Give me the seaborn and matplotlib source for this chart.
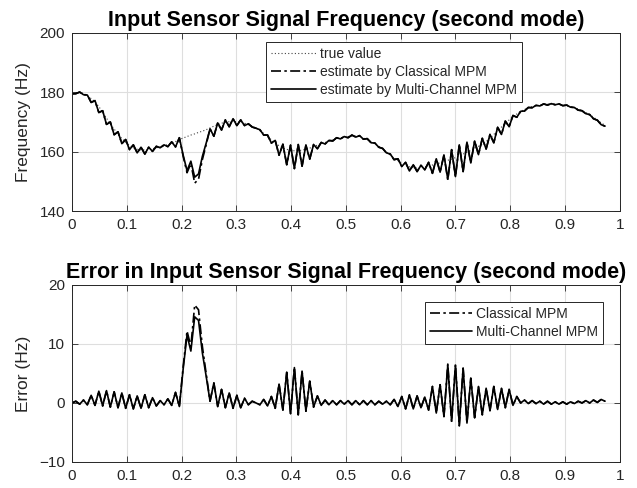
import numpy as np
import matplotlib
matplotlib.use("Agg")
import matplotlib.pyplot as plt
import seaborn as sns

# ---------------- data ----------------
t_start = 0.0
t_step = 0.007   # sampling step of the time axis

freq_true = [
    179.5, 179.85, 179.9, 179.7, 178.8, 177.9, 176.8, 175.2, 173.3, 171.3,
    169.3, 167.6, 165.9, 164.4, 163.2, 162.1, 161.3, 160.8, 160.6, 160.6,
    160.7, 161.0, 161.3, 161.7, 162.0, 162.4, 162.9, 163.4, 164.1, 164.6,
    165.1, 165.6, 166.0, 166.5, 166.9, 167.4, 168.0, 168.6, 169.1, 169.6,
    169.9, 170.1, 170.2, 170.1, 169.9, 169.6, 169.1, 168.6, 167.9, 167.1,
    166.2, 165.1, 164.0, 162.9, 162.0, 161.3, 160.8, 160.4, 160.3, 160.4,
    160.5, 160.8, 161.2, 161.7, 162.2, 162.7, 163.1, 163.5, 164.0, 164.4,
    164.7, 164.9, 165.1, 165.3, 165.3, 165.1, 164.6, 164.1, 163.4, 162.6,
    161.8, 160.9, 159.9, 158.9, 157.9, 157.0, 156.1, 155.4, 154.9, 154.6,
    154.5, 154.6, 154.9, 155.2, 155.5, 155.9, 156.2, 156.6, 157.1, 157.5,
    158.0, 158.6, 159.2, 159.8, 160.4, 161.1, 161.8, 162.5, 163.4, 164.5,
    165.8, 167.1, 168.3, 169.5, 170.7, 171.8, 172.7, 173.6, 174.2, 174.8,
    175.2, 175.5, 175.7, 175.9, 176.0, 176.0, 176.0, 175.9, 175.7, 175.5,
    175.2, 174.8, 174.3, 173.8, 173.2, 172.5, 171.6, 170.7, 169.7, 168.9,
]

err_multi = [
    0.0, 0.3, -0.2, 0.5, -0.3, 1.3, -0.4, 2.0, -0.5, 2.1,
    -0.7, 1.9, -0.8, 1.7, -0.9, 1.4, -1.0, 1.2, -0.9, 1.4,
    -0.8, 0.9, -0.5, 0.4, -0.3, 0.7, -0.4, 1.8, -0.6, 5.8,
    11.5, 8.8, 14.6, 14.0, 8.5, 4.5, 0.3, 3.4, -0.6, 2.3,
    -0.8, 1.7, -0.9, 1.3, -0.8, 0.8, -0.3, 0.3, 0.0, -0.3,
    0.6, -0.5, 1.1, -0.9, 3.2, -1.2, 5.2, -1.8, 6.0, -2.0,
    5.4, -1.4, 3.7, -0.7, 1.2, -0.4, 0.5, -0.3, 0.4, -0.3,
    0.4, -0.2, 0.4, -0.3, 0.4, -0.3, 0.4, -0.3, 0.4, -0.3,
    0.3, -0.2, 0.3, -0.3, 0.6, -0.6, 1.1, -1.0, 1.4, -1.0,
    1.2, -0.8, 1.0, -1.2, 2.8, -1.7, 3.1, -2.3, 6.4, -3.1,
    6.4, -3.7, 5.9, -3.4, 4.2, -2.5, 2.8, -2.0, 2.5, -1.3,
    2.8, -1.1, 2.5, -0.8, 2.3, -0.4, 1.1, 0.0, 0.5, -0.1,
    0.4, -0.1, 0.3, -0.2, 0.3, -0.2, 0.2, -0.2, 0.2, -0.2,
    0.2, -0.1, 0.3, 0.0, 0.4, 0.0, 0.5, 0.1, 0.6, 0.3,
]

err_classical = [
    0.0, 0.3, -0.2, 0.5, -0.3, 1.3, -0.4, 2.0, -0.5, 2.1,
    -0.7, 1.9, -0.8, 1.7, -0.9, 1.4, -1.0, 1.2, -0.9, 1.4,
    -0.8, 0.9, -0.5, 0.4, -0.3, 0.7, -0.4, 1.8, -0.6, 6.2,
    12.2, 9.6, 16.6, 15.8, 9.6, 5.0, 0.3, 3.4, -0.6, 2.3,
    -0.8, 1.7, -0.9, 1.3, -0.8, 0.8, -0.3, 0.3, 0.0, -0.3,
    0.6, -0.5, 1.1, -0.9, 3.2, -1.2, 5.2, -1.8, 6.0, -2.0,
    5.4, -1.4, 3.7, -0.7, 1.2, -0.4, 0.5, -0.3, 0.4, -0.3,
    0.4, -0.2, 0.4, -0.3, 0.4, -0.3, 0.4, -0.3, 0.4, -0.3,
    0.3, -0.2, 0.3, -0.3, 0.6, -0.6, 1.1, -1.0, 1.4, -1.0,
    1.2, -0.8, 1.0, -1.2, 2.8, -1.7, 3.1, -2.3, 6.6, -3.2,
    6.5, -3.9, 5.9, -3.4, 4.2, -2.5, 2.8, -2.0, 2.5, -1.3,
    2.8, -1.1, 2.5, -0.8, 2.3, -0.4, 1.1, 0.0, 0.5, -0.1,
    0.4, -0.1, 0.3, -0.2, 0.3, -0.2, 0.2, -0.2, 0.2, -0.2,
    0.2, -0.1, 0.3, 0.0, 0.4, 0.0, 0.5, 0.1, 0.6, 0.3,
]

x_ticks = [0, 0.1, 0.2, 0.3, 0.4, 0.5, 0.6, 0.7, 0.8, 0.9, 1]
x_tick_labels = ["0", "0.1", "0.2", "0.3", "0.4", "0.5", "0.6", "0.7", "0.8", "0.9", "1"]
top_yticks = [140, 160, 180, 200]
bot_yticks = [-10, 0, 10, 20]

title_top = "Input Sensor Signal Frequency (second mode)"
title_bot = "Error in Input Sensor Signal Frequency (second mode)"
leg_top = ["true value", "estimate by Classical MPM", "estimate by Multi-Channel MPM"]
leg_bot = ["Classical MPM", "Multi-Channel MPM"]

# ---------------- derived series ----------------
t = t_start + t_step * np.arange(len(freq_true))
f_true = np.array(freq_true)
e_mc = np.array(err_multi)
e_cl = np.array(err_classical)
est_mc = f_true - e_mc      # error = true - estimate
est_cl = f_true - e_cl

# ---------------- style ----------------
sns.set_style("ticks")
plt.rcParams["font.family"] = ["Liberation Sans", "DejaVu Sans"]
axc = "#262626"

fig = plt.figure(figsize=(6.37, 4.88), dpi=100)
ax1 = fig.add_axes([0.113, 0.5676, 0.860, 0.3648])
ax2 = fig.add_axes([0.113, 0.0533, 0.860, 0.3627])

dot_ls = (0, (1, 2))
dd_ls = (0, (6, 2, 1.5, 2))
lw_main = 1.2

sns.lineplot(x=t, y=f_true, ax=ax1, color="#444444", lw=0.8, linestyle=dot_ls,
             label=leg_top[0], estimator=None, sort=False)
sns.lineplot(x=t, y=est_cl, ax=ax1, color="black", lw=lw_main, linestyle=dd_ls,
             label=leg_top[1], estimator=None, sort=False)
sns.lineplot(x=t, y=est_mc, ax=ax1, color="black", lw=lw_main, linestyle="-",
             label=leg_top[2], estimator=None, sort=False)

sns.lineplot(x=t, y=e_cl, ax=ax2, color="black", lw=lw_main, linestyle=dd_ls,
             label=leg_bot[0], estimator=None, sort=False)
sns.lineplot(x=t, y=e_mc, ax=ax2, color="black", lw=lw_main, linestyle="-",
             label=leg_bot[1], estimator=None, sort=False)

for ax, yt, title, ylab in [(ax1, top_yticks, title_top, "Frequency (Hz)"),
                            (ax2, bot_yticks, title_bot, "Error (Hz)")]:
    ax.set_xlim(0, 1)
    ax.set_ylim(yt[0], yt[-1])
    ax.set_xticks(x_ticks)
    ax.set_xticklabels(x_tick_labels)
    ax.set_yticks(yt)
    ax.set_axisbelow(True)
    ax.grid(True, color="#dedede", lw=0.8)
    ax.tick_params(direction="in", top=True, right=True, length=4, width=0.6,
                   colors=axc, labelsize=11, pad=5)
    for sp in ax.spines.values():
        sp.set_visible(True)
        sp.set_color(axc)
        sp.set_linewidth(0.7)
    ax.set_title(title, fontsize=15.5, fontweight="bold", color="black", pad=5)
    ax.set_ylabel(ylab, fontsize=12.5, color=axc, labelpad=6)
    ax.set_xlabel("")

lg1 = ax1.legend(loc="upper right", bbox_to_anchor=(0.821, 0.949), fontsize=10,
                 frameon=True, fancybox=False, framealpha=1, edgecolor=axc,
                 handlelength=3.2, handletextpad=0.3, borderpad=0.35,
                 labelspacing=0.3, borderaxespad=0)
lg1.get_frame().set_linewidth(0.7)
lg2 = ax2.legend(loc="upper right", bbox_to_anchor=(0.969, 0.904), fontsize=10,
                 frameon=True, fancybox=False, framealpha=1, edgecolor=axc,
                 handlelength=3.0, handletextpad=0.3, borderpad=0.35,
                 labelspacing=0.3, borderaxespad=0)
lg2.get_frame().set_linewidth(0.7)

fig.savefig("out.png", dpi=100)
